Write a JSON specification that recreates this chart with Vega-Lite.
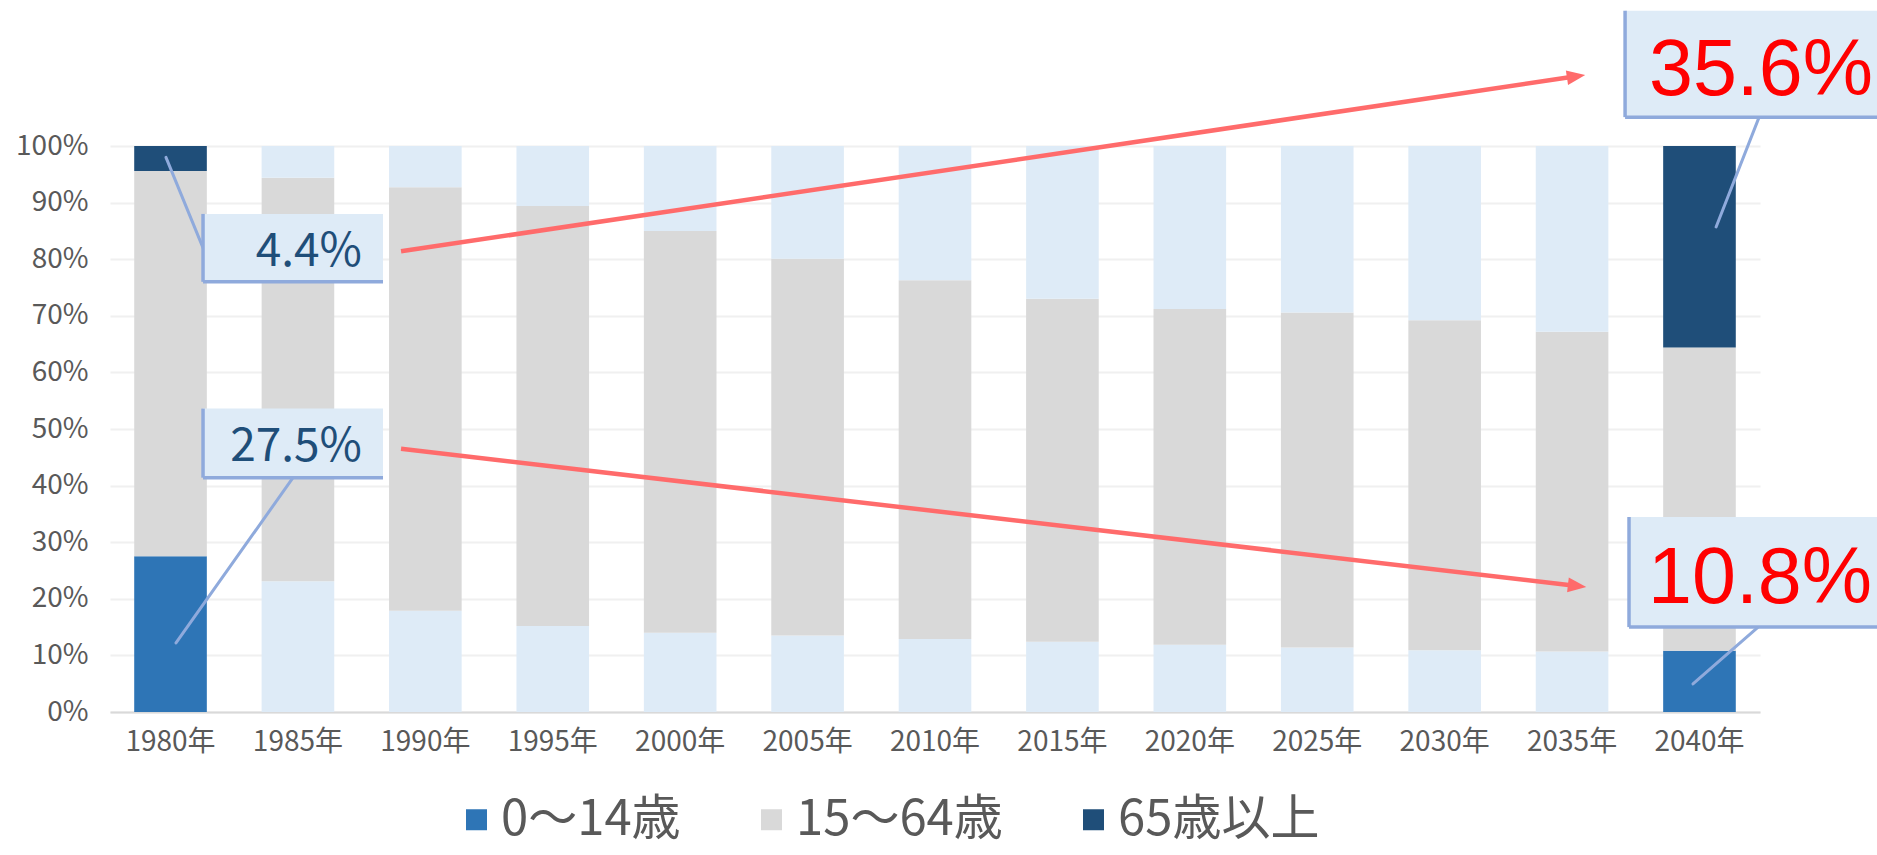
{
  "$schema": "https://vega.github.io/schema/vega-lite/v6.json",
  "width": 1650,
  "height": 566,
  "autosize": {"type": "none"},
  "padding": {"left": 110, "top": 146, "right": 117, "bottom": 143},
  "background": "#ffffff",
  "config": {"view": {"stroke": null}},
  "datasets": {
    "pop": [
      {"year": "1980年", "group": "0～14歳", "pct": 27.5}, {"year": "1980年", "group": "15～64歳", "pct": 68.1}, {"year": "1980年", "group": "65歳以上", "pct": 4.4},
      {"year": "1985年", "group": "0～14歳", "pct": 23.1}, {"year": "1985年", "group": "15～64歳", "pct": 71.3}, {"year": "1985年", "group": "65歳以上", "pct": 5.6},
      {"year": "1990年", "group": "0～14歳", "pct": 17.9}, {"year": "1990年", "group": "15～64歳", "pct": 74.8}, {"year": "1990年", "group": "65歳以上", "pct": 7.3},
      {"year": "1995年", "group": "0～14歳", "pct": 15.2}, {"year": "1995年", "group": "15～64歳", "pct": 74.2}, {"year": "1995年", "group": "65歳以上", "pct": 10.6},
      {"year": "2000年", "group": "0～14歳", "pct": 14.0}, {"year": "2000年", "group": "15～64歳", "pct": 71.0}, {"year": "2000年", "group": "65歳以上", "pct": 15.0},
      {"year": "2005年", "group": "0～14歳", "pct": 13.5}, {"year": "2005年", "group": "15～64歳", "pct": 66.6}, {"year": "2005年", "group": "65歳以上", "pct": 19.9},
      {"year": "2010年", "group": "0～14歳", "pct": 12.9}, {"year": "2010年", "group": "15～64歳", "pct": 63.4}, {"year": "2010年", "group": "65歳以上", "pct": 23.7},
      {"year": "2015年", "group": "0～14歳", "pct": 12.4}, {"year": "2015年", "group": "15～64歳", "pct": 60.6}, {"year": "2015年", "group": "65歳以上", "pct": 27.0},
      {"year": "2020年", "group": "0～14歳", "pct": 11.9}, {"year": "2020年", "group": "15～64歳", "pct": 59.3}, {"year": "2020年", "group": "65歳以上", "pct": 28.8},
      {"year": "2025年", "group": "0～14歳", "pct": 11.4}, {"year": "2025年", "group": "15～64歳", "pct": 59.2}, {"year": "2025年", "group": "65歳以上", "pct": 29.4},
      {"year": "2030年", "group": "0～14歳", "pct": 10.9}, {"year": "2030年", "group": "15～64歳", "pct": 58.3}, {"year": "2030年", "group": "65歳以上", "pct": 30.8},
      {"year": "2035年", "group": "0～14歳", "pct": 10.7}, {"year": "2035年", "group": "15～64歳", "pct": 56.5}, {"year": "2035年", "group": "65歳以上", "pct": 32.8},
      {"year": "2040年", "group": "0～14歳", "pct": 10.8}, {"year": "2040年", "group": "15～64歳", "pct": 53.6}, {"year": "2040年", "group": "65歳以上", "pct": 35.6}
    ],
    "leaders": [
      {"u": 0.441, "p": 98.0, "u2": 0.733, "p2": 82.0},
      {"u": 0.52, "p": 12.2, "u2": 1.442, "p2": 41.4},
      {"u": 12.654, "p": 85.7, "u2": 12.993, "p2": 105.1},
      {"u": 12.472, "p": 4.95, "u2": 12.985, "p2": 15.0}
    ],
    "arrows": [
      {"u": 2.293, "p": 81.4, "u2": 11.551, "p2": 112.31},
      {"u": 2.293, "p": 46.5, "u2": 11.559, "p2": 22.27}
    ],
    "boxes": [
      {"u": 0.733, "u2": 2.151, "p": 76.0, "p2": 88.0},
      {"u": 0.733, "u2": 2.151, "p": 41.4, "p2": 53.6},
      {"u": 11.937, "u2": 14.2, "p": 105.1, "p2": 123.9},
      {"u": 11.968, "u2": 14.2, "p": 15.0, "p2": 34.45}
    ],
    "small": [
      {"u": 1.985, "p": 78.8, "label": "4.4%"},
      {"u": 1.985, "p": 44.4, "label": "27.5%"}
    ],
    "big": [
      {"u": 12.125, "p": 109.0, "label": "35.6%"},
      {"u": 12.118, "p": 19.26, "label": "10.8%"}
    ]
  },
  "resolve": {"scale": {"x": "independent", "y": "independent"}},
  "layer": [
    {
      "data": {"name": "pop"},
      "mark": {"type": "bar"},
      "encoding": {
        "x": {
          "field": "year", "type": "nominal", "sort": null,
          "scale": {"paddingInner": 0.43, "paddingOuter": 0.19},
          "axis": {"title": null, "labelAngle": 0, "labelFontSize": 28, "labelFont": "Noto Sans CJK JP", "labelColor": "#595959", "ticks": false, "domain": true, "domainColor": "#D9D9D9", "domainWidth": 2, "labelPadding": 16}
        },
        "y": {
          "field": "pct", "type": "quantitative", "stack": "zero",
          "scale": {"domain": [0, 100], "nice": false},
          "axis": {"title": null, "values": [0, 10, 20, 30, 40, 50, 60, 70, 80, 90, 100], "labelExpr": "datum.value + '%'", "labelFontSize": 28, "labelFont": "Noto Sans CJK JP", "labelColor": "#595959", "ticks": false, "domain": false, "grid": true, "gridColor": "#F0F0F0", "gridWidth": 2, "labelPadding": 22}
        },
        "order": {"field": "group", "sort": "ascending"},
        "color": {
          "condition": {"test": "datum.year !== '1980年' && datum.year !== '2040年' && datum.group !== '15～64歳'", "value": "#DEEBF7"},
          "field": "group", "type": "nominal",
          "scale": {"domain": ["0～14歳", "15～64歳", "65歳以上"], "range": ["#2E75B6", "#D9D9D9", "#1F4E79"]},
          "legend": {"title": null, "orient": "none", "legendX": 342, "legendY": 649, "direction": "horizontal", "symbolType": "square", "symbolSize": 441, "symbolStrokeWidth": 0, "labelFontSize": 49, "labelFont": "Noto Sans CJK JP", "labelColor": "#595959", "labelLimit": 600, "columnPadding": 66, "labelOffset": 0}
        }
      }
    },
    {
      "data": {"name": "leaders"},
      "mark": {"type": "rule", "stroke": "#8FAADC", "strokeWidth": 3, "strokeCap": "round"},
      "encoding": {
        "x": {"field": "u", "type": "quantitative", "scale": {"domain": [0, 13], "nice": false, "zero": false}, "axis": null},
        "x2": {"field": "u2"},
        "y": {"field": "p", "type": "quantitative", "scale": {"domain": [0, 100], "nice": false}, "axis": null},
        "y2": {"field": "p2"}
      }
    },
    {
      "data": {"name": "arrows"},
      "mark": {"type": "rule", "stroke": "#FF6B6B", "strokeWidth": 4.5},
      "encoding": {
        "x": {"field": "u", "type": "quantitative", "scale": {"domain": [0, 13], "nice": false, "zero": false}, "axis": null},
        "x2": {"field": "u2"},
        "y": {"field": "p", "type": "quantitative", "scale": {"domain": [0, 100], "nice": false}, "axis": null},
        "y2": {"field": "p2"}
      }
    },
    {
      "data": {"name": "arrows"},
      "transform": [{"filter": "datum.p2 > 100"}],
      "mark": {"type": "point", "shape": "M1,0L-1,0.8L-1,-0.8Z", "filled": true, "fill": "#FF6B6B", "opacity": 1, "size": 340, "angle": -8.47},
      "encoding": {
        "x": {"field": "u2", "type": "quantitative", "scale": {"domain": [0, 13], "nice": false, "zero": false}, "axis": null},
        "y": {"field": "p2", "type": "quantitative", "scale": {"domain": [0, 100], "nice": false}, "axis": null}
      }
    },
    {
      "data": {"name": "arrows"},
      "transform": [{"filter": "datum.p2 < 100"}],
      "mark": {"type": "point", "shape": "M1,0L-1,0.8L-1,-0.8Z", "filled": true, "fill": "#FF6B6B", "opacity": 1, "size": 340, "angle": 6.64},
      "encoding": {
        "x": {"field": "u2", "type": "quantitative", "scale": {"domain": [0, 13], "nice": false, "zero": false}, "axis": null},
        "y": {"field": "p2", "type": "quantitative", "scale": {"domain": [0, 100], "nice": false}, "axis": null}
      }
    },
    {
      "data": {"name": "boxes"},
      "mark": {"type": "rect", "fill": "#DEEBF7"},
      "encoding": {
        "x": {"field": "u", "type": "quantitative", "scale": {"domain": [0, 13], "nice": false, "zero": false}, "axis": null},
        "x2": {"field": "u2"},
        "y": {"field": "p", "type": "quantitative", "scale": {"domain": [0, 100], "nice": false}, "axis": null},
        "y2": {"field": "p2"}
      }
    },
    {
      "data": {"name": "boxes"},
      "mark": {"type": "rule", "stroke": "#8FAADC", "strokeWidth": 3.5},
      "encoding": {
        "x": {"field": "u", "type": "quantitative", "scale": {"domain": [0, 13], "nice": false, "zero": false}, "axis": null},
        "y": {"field": "p", "type": "quantitative", "scale": {"domain": [0, 100], "nice": false}, "axis": null},
        "y2": {"field": "p2"}
      }
    },
    {
      "data": {"name": "boxes"},
      "mark": {"type": "rule", "stroke": "#8FAADC", "strokeWidth": 3.5},
      "encoding": {
        "x": {"field": "u", "type": "quantitative", "scale": {"domain": [0, 13], "nice": false, "zero": false}, "axis": null},
        "x2": {"field": "u2"},
        "y": {"field": "p", "type": "quantitative", "scale": {"domain": [0, 100], "nice": false}, "axis": null}
      }
    },
    {
      "data": {"name": "small"},
      "mark": {"type": "text", "align": "right", "baseline": "alphabetic", "font": "Noto Sans CJK JP", "fontSize": 46, "fill": "#1F4E79"},
      "encoding": {
        "x": {"field": "u", "type": "quantitative", "scale": {"domain": [0, 13], "nice": false, "zero": false}, "axis": null},
        "y": {"field": "p", "type": "quantitative", "scale": {"domain": [0, 100], "nice": false}, "axis": null},
        "text": {"field": "label"}
      }
    },
    {
      "data": {"name": "big"},
      "mark": {"type": "text", "align": "left", "baseline": "alphabetic", "font": "Liberation Sans", "fontSize": 79, "fill": "#FF0000"},
      "encoding": {
        "x": {"field": "u", "type": "quantitative", "scale": {"domain": [0, 13], "nice": false, "zero": false}, "axis": null},
        "y": {"field": "p", "type": "quantitative", "scale": {"domain": [0, 100], "nice": false}, "axis": null},
        "text": {"field": "label"}
      }
    }
  ]
}
